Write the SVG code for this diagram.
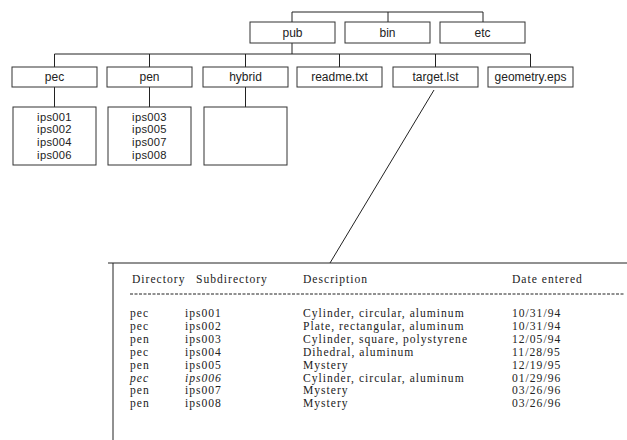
<svg xmlns="http://www.w3.org/2000/svg" width="627" height="440" viewBox="0 0 627 440">
<style>
.bx{fill:#fff;stroke:#333;stroke-width:1}
.ln{fill:none;stroke:#222;stroke-width:1}
.t{font-family:"Liberation Sans",Arial,sans-serif;font-size:12px;fill:#222;text-anchor:middle}
.s{font-size:11.2px;letter-spacing:0.3px}
.tb{font-family:"Liberation Serif","Times New Roman",serif;font-size:11.6px;letter-spacing:1px;fill:#222}
.it{font-style:italic}
</style>
<rect width="627" height="440" fill="#fff"/>
<g id="connectors" class="ln">
<path d="M292 22V12H483V22M388 12V22"/>
<path d="M292 43V54M54.5 67V54H530.5V67M149.5 54V67M245.5 54V67M339.5 54V67M435.5 54V67"/>
<path d="M54.5 87V107M149.5 87V107M245.5 87V107"/>
<path d="M434 90L330 263"/>
</g>
<g id="pub"><rect class="bx" x="250" y="22" width="85" height="21"/><text class="t" x="292.5" y="37">pub</text></g>
<g id="bin"><rect class="bx" x="345" y="22" width="85" height="21"/><text class="t" x="387.5" y="37">bin</text></g>
<g id="etc"><rect class="bx" x="440" y="22" width="85" height="21"/><text class="t" x="482.5" y="37">etc</text></g>
<g id="pec"><rect class="bx" x="12" y="67" width="85" height="20"/><text class="t" x="54.5" y="81">pec</text></g>
<g id="pen"><rect class="bx" x="107" y="67" width="85" height="20"/><text class="t" x="149.5" y="81">pen</text></g>
<g id="hybrid"><rect class="bx" x="203" y="67" width="85" height="20"/><text class="t" x="245.5" y="81">hybrid</text></g>
<g id="readme"><rect class="bx" x="297" y="67" width="85" height="20"/><text class="t" x="339.5" y="81">readme.txt</text></g>
<g id="target"><rect class="bx" x="393" y="67" width="85" height="20"/><text class="t" x="435.5" y="81">target.lst</text></g>
<g id="geometry"><rect class="bx" x="488" y="67" width="85" height="20"/><text class="t" x="530.5" y="81">geometry.eps</text></g>
<g id="pec-sub"><rect class="bx" x="13" y="107" width="83" height="58"/>
<text class="t s" x="54.5" y="120.5">ips001</text><text class="t s" x="54.5" y="133.2">ips002</text><text class="t s" x="54.5" y="145.9">ips004</text><text class="t s" x="54.5" y="158.6">ips006</text></g>
<g id="pen-sub"><rect class="bx" x="108" y="107" width="83" height="58"/>
<text class="t s" x="149.5" y="120.5">ips003</text><text class="t s" x="149.5" y="133.2">ips005</text><text class="t s" x="149.5" y="145.9">ips007</text><text class="t s" x="149.5" y="158.6">ips008</text></g>
<g id="hybrid-sub"><rect class="bx" x="204" y="107" width="83" height="58"/></g>
<g id="table">
<path class="ln" d="M108 263H627M113 263V440"/>
<path class="ln" d="M130 294H624" stroke-dasharray="3 1.5"/>
<text class="tb" x="132" y="283">Directory</text>
<text class="tb" x="196" y="283">Subdirectory</text>
<text class="tb" x="303" y="283">Description</text>
<text class="tb" x="512" y="283">Date entered</text>
<g>
<text class="tb" x="130" y="317">pec</text><text class="tb" x="185" y="317">ips001</text><text class="tb" x="303" y="317">Cylinder, circular, aluminum</text><text class="tb" x="512" y="317">10/31/94</text>
<text class="tb" x="130" y="329.9">pec</text><text class="tb" x="185" y="329.9">ips002</text><text class="tb" x="303" y="329.9">Plate, rectangular, aluminum</text><text class="tb" x="512" y="329.9">10/31/94</text>
<text class="tb" x="130" y="342.8">pen</text><text class="tb" x="185" y="342.8">ips003</text><text class="tb" x="303" y="342.8">Cylinder, square, polystyrene</text><text class="tb" x="512" y="342.8">12/05/94</text>
<text class="tb" x="130" y="355.7">pec</text><text class="tb" x="185" y="355.7">ips004</text><text class="tb" x="303" y="355.7">Dihedral, aluminum</text><text class="tb" x="512" y="355.7">11/28/95</text>
<text class="tb" x="130" y="368.6">pen</text><text class="tb" x="185" y="368.6">ips005</text><text class="tb" x="303" y="368.6">Mystery</text><text class="tb" x="512" y="368.6">12/19/95</text>
<text class="tb it" x="130" y="381.5">pec</text><text class="tb it" x="185" y="381.5">ips006</text><text class="tb" x="303" y="381.5">Cylinder, circular, aluminum</text><text class="tb" x="512" y="381.5">01/29/96</text>
<text class="tb" x="130" y="394.4">pen</text><text class="tb" x="185" y="394.4">ips007</text><text class="tb" x="303" y="394.4">Mystery</text><text class="tb" x="512" y="394.4">03/26/96</text>
<text class="tb" x="130" y="407.3">pen</text><text class="tb" x="185" y="407.3">ips008</text><text class="tb" x="303" y="407.3">Mystery</text><text class="tb" x="512" y="407.3">03/26/96</text>
</g>
</g>
</svg>
